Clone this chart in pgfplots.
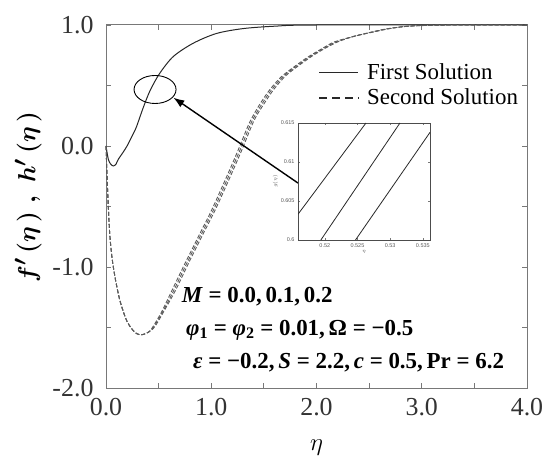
\documentclass[border=0pt]{standalone}
\usepackage{fontspec}
\setmainfont{Liberation Serif}
\newfontfamily\insetfont{Liberation Sans}
\usepackage{amsmath}
\usepackage{pgfplots}
\pgfplotsset{compat=1.18}
\usetikzlibrary{arrows.meta}

\definecolor{axgray}{RGB}{120,120,120}
\definecolor{solidc}{RGB}{40,40,40}
\definecolor{dashc}{RGB}{90,90,90}

\begin{document}
\begin{tikzpicture}
\useasboundingbox (0,0) rectangle (550bp,470bp);
\begin{axis}[
    at={(106bp,82bp)}, anchor=south west,
    width=421bp, height=363bp, scale only axis,
    xmin=0, xmax=4, ymin=-2, ymax=1,
    xtick={0,1,2,3,4}, minor xtick={0.5,1.5,2.5,3.5},
    ytick={-2,-1,0,1}, minor ytick={-1.5,-0.5,0.5},
    /pgf/number format/fixed,
    /pgf/number format/fixed zerofill,
    /pgf/number format/precision=1,
    /pgf/number format/assume math mode=true,
    tick label style={font=\fontsize{26}{28}\selectfont, text=black!80},
    xticklabel style={yshift=-7bp},
    yticklabel style={xshift=-9bp},
    tick align=inside,
    major tick length=5bp, minor tick length=5bp,
    tick style={axgray, line width=0.8bp},
    axis line style={axgray, line width=1bp},
    xlabel={$\eta$},
    xlabel style={font=\fontsize{31}{33}\selectfont, at={(axis description cs:0.5,-0.165)}, anchor=center},
    ylabel={$\boldsymbol{f'\,(\eta\,)\;,\;h'\,(\eta\,)}$},
    ylabel style={font=\fontsize{32}{34}\selectfont, at={(axis description cs:-0.185,0.526)}, anchor=center},
    legend style={draw=none, fill=none, at={(0.497,0.905)}, anchor=north west,
        font=\fontsize{23}{25}\selectfont, column sep=6bp, row sep=4bp},
    legend cell align=left,
    legend image post style={xscale=2.3},
    clip=false,
]
\addlegendimage{solidc, line width=1.6bp}
\addlegendimage{solidc, line width=1.6bp, dash pattern=on 8bp off 5bp}
\legend{First Solution, Second Solution}

% first solution
\addplot[solidc, line width=1bp, smooth, forget plot] coordinates {
(0,0) (0.022,-0.11) (0.045,-0.15) (0.07,-0.165) (0.095,-0.15) (0.117,-0.11)
(0.16,-0.055) (0.2,0) (0.25,0.085) (0.29,0.16) (0.355,0.32) (0.42,0.46)
(0.51,0.60) (0.64,0.74) (0.83,0.85) (1.05,0.93) (1.3,0.97) (1.6,0.99)
(2.0,1.0) (4.0,1.0)};

% second solution, three nearly coincident curves
\addplot[dashc, line width=0.9bp, dash pattern=on 4bp off 2bp, smooth, forget plot] coordinates {
(0,0) (0.01,-0.25) (0.022,-0.5) (0.035,-0.72) (0.054,-0.90) (0.075,-1.03)
(0.1,-1.15) (0.13,-1.27) (0.165,-1.37) (0.2,-1.45) (0.244,-1.51) (0.29,-1.55)
(0.34,-1.56) (0.39,-1.545) (0.43,-1.515) (0.523,-1.38) (0.618,-1.21)
(0.745,-0.98) (0.871,-0.76) (0.998,-0.54) (1.128,-0.29) (1.248,-0.05)
(1.362,0.19) (1.458,0.34) (1.552,0.46) (1.663,0.57) (1.788,0.655)
(1.918,0.735) (2.043,0.80) (2.168,0.86) (2.33,0.90) (2.49,0.935)
(2.645,0.965) (2.81,0.985) (3.0,0.995) (3.3,1.0) (4.0,1.0)};
\addplot[dashc, line width=0.9bp, dash pattern=on 4bp off 2bp, smooth, forget plot] coordinates {
(0,0) (0.01,-0.25) (0.022,-0.5) (0.035,-0.72) (0.054,-0.90) (0.075,-1.03)
(0.1,-1.15) (0.13,-1.27) (0.165,-1.37) (0.2,-1.45) (0.244,-1.51) (0.29,-1.55)
(0.34,-1.56) (0.4,-1.54) (0.45,-1.50) (0.545,-1.36) (0.64,-1.20)
(0.767,-0.97) (0.893,-0.75) (1.02,-0.53) (1.15,-0.28) (1.27,-0.04)
(1.384,0.20) (1.48,0.345) (1.574,0.465) (1.685,0.575) (1.81,0.66)
(1.94,0.74) (2.065,0.805) (2.19,0.862) (2.35,0.905) (2.51,0.938)
(2.66,0.966) (2.82,0.986) (3.0,0.996) (3.3,1.0) (4.0,1.0)};
\addplot[dashc, line width=0.9bp, dash pattern=on 4bp off 2bp, smooth, forget plot] coordinates {
(0,0) (0.01,-0.25) (0.022,-0.5) (0.035,-0.72) (0.054,-0.90) (0.075,-1.03)
(0.1,-1.15) (0.13,-1.27) (0.165,-1.37) (0.2,-1.45) (0.244,-1.51) (0.29,-1.55)
(0.34,-1.56) (0.41,-1.535) (0.47,-1.485) (0.567,-1.34) (0.662,-1.19)
(0.789,-0.96) (0.915,-0.74) (1.042,-0.52) (1.172,-0.27) (1.292,-0.03)
(1.406,0.21) (1.502,0.35) (1.596,0.47) (1.707,0.58) (1.832,0.665)
(1.962,0.745) (2.087,0.81) (2.212,0.864) (2.37,0.91) (2.53,0.94)
(2.675,0.967) (2.83,0.987) (3.0,0.997) (3.3,1.0) (4.0,1.0)};

\coordinate (ec) at (axis cs:0.466,0.467);
\coordinate (atail) at (axis cs:1.824,-0.306);
\coordinate (ahead) at (axis cs:0.64,0.40);
\coordinate (t1) at (axis cs:0.72,-1.248);
\coordinate (t2) at (axis cs:0.76,-1.52);
\coordinate (t3) at (axis cs:0.827,-1.793);
\end{axis}

% zoom marker and arrow
\draw[black, line width=0.9bp] (ec) ellipse [x radius=21bp, y radius=14bp];
\draw[-{Latex[length=11bp,width=8bp]}, black, line width=1.4bp] (atail) -- (ahead);

% parameter text
\node[anchor=west, font=\fontsize{23}{25}\selectfont\bfseries, inner sep=0pt] at (t1) {\textit{M} = 0.0,\,0.1,\,0.2};
\node[anchor=west, font=\fontsize{23}{25}\selectfont\bfseries, inner sep=0pt] at (t2) {\textit{φ}\textsubscript{1} = \textit{φ}\textsubscript{2} = 0.01,\,Ω = −0.5};
\node[anchor=west, font=\fontsize{23}{25}\selectfont\bfseries, inner sep=0pt] at (t3) {\textit{ε} = −0.2,\,\textit{S} = 2.2,\,\textit{c} = 0.5,\,Pr = 6.2};

% inset
\begin{axis}[
    at={(298bp,230bp)}, anchor=south west,
    width=132bp, height=117bp, scale only axis,
    xmin=0.5159, xmax=0.5361, ymin=0.6, ymax=0.615,
    xtick={0.52,0.525,0.53,0.535}, ytick={0.6,0.605,0.61,0.615},
    /pgf/number format/precision=3,
    /pgf/number format/assume math mode=true,
    tick label style={font=\insetfont\fontsize{5.5}{6}\selectfont, text=black!65},
    tick align=inside, major tick length=2bp,
    tick style={axgray, line width=0.4bp},
    axis line style={black!70, line width=0.6bp},
    axis background/.style={fill=white},
    xlabel={$\eta$}, ylabel={$g(\eta)$},
    label style={font=\fontsize{5}{6}\selectfont, text=black!65},
    xlabel style={yshift=4bp}, ylabel style={yshift=-4bp},
]
\addplot[solidc, line width=0.8bp] coordinates {(0.5159,0.6033) (0.5263,0.615)};
\addplot[solidc, line width=0.8bp] coordinates {(0.5194,0.6) (0.5315,0.615)};
\addplot[solidc, line width=0.8bp] coordinates {(0.5247,0.6) (0.5361,0.6138)};
\end{axis}
\end{tikzpicture}
\end{document}
